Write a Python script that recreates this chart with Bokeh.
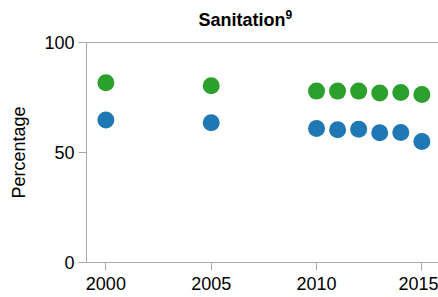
from bokeh.plotting import figure
from bokeh.models import Range1d, FixedTicker, LinearAxis, Label
from bokeh.embed import file_html
from bokeh.resources import INLINE

years = [2000, 2005, 2010, 2011, 2012, 2013, 2014, 2015]
series_green = [81.7, 80.3, 77.9, 77.9, 77.9, 77.0, 77.3, 76.4]
series_blue = [64.8, 63.5, 60.9, 60.3, 60.6, 59.0, 59.1, 55.0]
x_ticks = [2000, 2005, 2010, 2015]
y_ticks = [0, 50, 100]
title_text = "Sanitation"
title_sup = "9"
y_label = "Percentage"

FONT = "Liberation Sans"
AXIS_COLOR = "#aaaaaa"

p = figure(frame_width=352, frame_height=220,
           min_border_left=86, min_border_top=42, min_border_bottom=35, min_border_right=0,
           output_backend="svg", toolbar_location=None, title=None,
           x_range=Range1d(1999.08, 2015.79), y_range=Range1d(0, 100))
p.outline_line_color = None
p.grid.visible = False
p.background_fill_color = "white"
p.border_fill_color = "white"

p.scatter(years, series_green, size=17, fill_color="#2ca02c", line_color=None)
p.scatter(years, series_blue, size=17, fill_color="#1f77b4", line_color=None)

for ax in (p.xaxis[0], p.yaxis[0]):
    ax.axis_line_color = AXIS_COLOR
    ax.major_tick_line_color = AXIS_COLOR
    ax.major_tick_in = 0
    ax.major_tick_out = 8
    ax.minor_tick_line_color = None
    ax.major_label_text_font = FONT
    ax.major_label_text_font_size = "18px"
    ax.major_label_text_color = "black"
    ax.major_label_standoff = 4

p.xaxis[0].ticker = FixedTicker(ticks=x_ticks)
p.yaxis[0].ticker = FixedTicker(ticks=y_ticks)
p.xaxis[0].major_label_standoff = 6
p.yaxis[0].axis_label = y_label
p.yaxis[0].axis_label_text_font = FONT
p.yaxis[0].axis_label_text_font_size = "18px"
p.yaxis[0].axis_label_text_font_style = "normal"
p.yaxis[0].axis_label_text_color = "black"
p.yaxis[0].axis_label_standoff = 12

top = LinearAxis(axis_line_color=AXIS_COLOR, major_tick_line_color=None,
                 minor_tick_line_color=None, major_label_text_font_size="0px",
                 ticker=FixedTicker(ticks=[]))
p.add_layout(top, "above")

p.add_layout(Label(x=112, y=23, x_units="screen", y_units="screen", text=title_text,
                   text_font=FONT, text_font_size="18px", text_font_style="bold",
                   text_color="black", text_baseline="alphabetic"), "above")
p.add_layout(Label(x=199, y=8, x_units="screen", y_units="screen", text=title_sup,
                   text_font=FONT, text_font_size="12px", text_font_style="bold",
                   text_color="black", text_baseline="alphabetic"), "above")

open("out.html", "w").write(file_html(p, INLINE))
